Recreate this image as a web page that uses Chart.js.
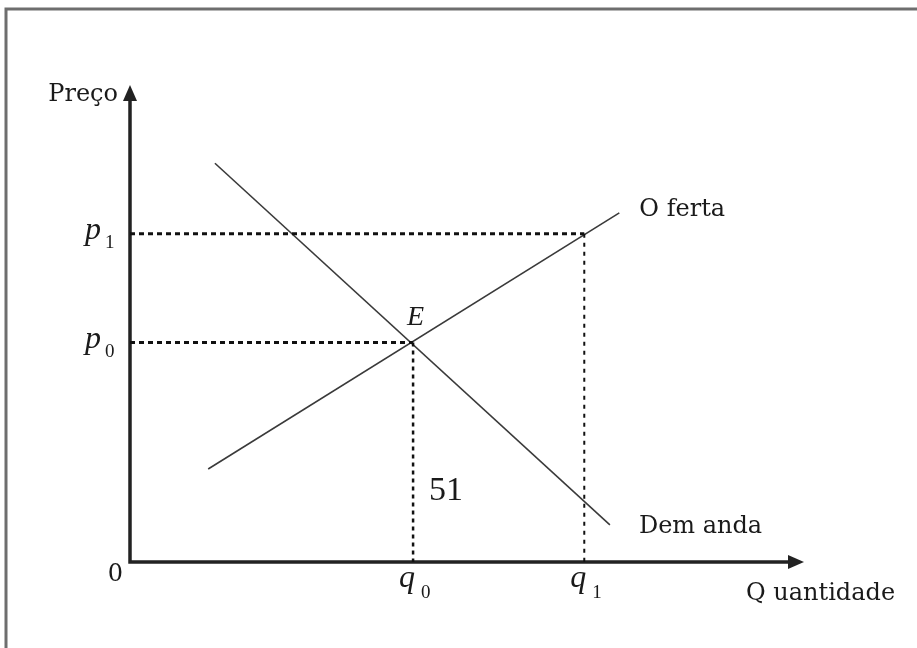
<!DOCTYPE html>
<html>
<head>
<meta charset="utf-8">
<script src="https://cdn.jsdelivr.net/npm/chart.js@4"></script>
<style>
  html, body { margin: 0; padding: 0; background: #fff; }
  #wrap { position: relative; width: 917px; height: 648px; overflow: hidden; }
</style>
</head>
<body>
<div id="wrap"><canvas id="eqChart" width="917" height="648"></canvas></div>
<script>
// Oferta e demanda - equilibrio em E
const quantities = [42, 67.4];      // q0, q1
const prices = [46, 68.8];          // p0, p1
const demandQ = [12.6, 71.2];
const demandP = [83.6, 7.8];
const supplyQ = [11.6, 72.6];
const supplyP = [19.5, 73.2];
const axisTitles = ['Preço', 'Q uantidade'];
const curveNames = ['O ferta', 'Dem anda'];
const noteText = '51';

const TEXT_FONT = '"DejaVu Serif", serif';
const MATH_FONT = '"Liberation Serif", "DejaVu Serif", serif';

function pts(xs, ys) {
    return xs.map((x, i) => ({ x: x, y: ys[i] }));
}

const guideStyle = { showLine: true, pointRadius: 0, borderColor: '#111', borderWidth: 3, borderDash: [5, 4], clip: false };

// frame, axes with arrows and all the text
const diagramPlugin = {
    id: 'diagram',
    beforeDatasetsDraw(chart) {
        const ctx = chart.ctx;
        const xs = chart.scales.x, ys = chart.scales.y;
        const x0 = xs.getPixelForValue(0), y0 = ys.getPixelForValue(0);
        const xEnd = xs.getPixelForValue(xs.max), yEnd = ys.getPixelForValue(ys.max);
        ctx.save();
        // outer frame
        ctx.strokeStyle = '#6e6e6e';
        ctx.lineWidth = 3;
        ctx.beginPath();
        ctx.moveTo(6, 660);
        ctx.lineTo(6, 9);
        ctx.lineTo(930, 9);
        ctx.stroke();
        // axes
        ctx.strokeStyle = '#222';
        ctx.fillStyle = '#222';
        ctx.lineWidth = 3.5;
        ctx.lineCap = 'square';
        ctx.beginPath();
        ctx.moveTo(x0, yEnd + 12);
        ctx.lineTo(x0, y0);
        ctx.lineTo(xEnd - 12, y0);
        ctx.stroke();
        ctx.beginPath();
        ctx.moveTo(x0, yEnd);
        ctx.lineTo(x0 - 7, yEnd + 16);
        ctx.lineTo(x0 + 7, yEnd + 16);
        ctx.closePath();
        ctx.fill();
        ctx.beginPath();
        ctx.moveTo(xEnd, y0);
        ctx.lineTo(xEnd - 16, y0 - 7);
        ctx.lineTo(xEnd - 16, y0 + 7);
        ctx.closePath();
        ctx.fill();
        ctx.restore();
    },
    afterDraw(chart) {
        const ctx = chart.ctx;
        const xs = chart.scales.x, ys = chart.scales.y;
        const x0 = xs.getPixelForValue(0), y0 = ys.getPixelForValue(0);
        ctx.save();
        ctx.fillStyle = '#1a1a1a';
        ctx.textBaseline = 'alphabetic';

        ctx.font = '24px ' + TEXT_FONT;
        ctx.textAlign = 'right';
        ctx.fillText(axisTitles[0], x0 - 12, ys.getPixelForValue(ys.max) + 16);
        ctx.fillText('0', x0 - 7, y0 + 19);
        ctx.textAlign = 'left';
        ctx.fillText(axisTitles[1], 746, y0 + 38);
        ctx.fillText(curveNames[0], xs.getPixelForValue(supplyQ[1]) + 20, ys.getPixelForValue(supplyP[1]) + 3);
        ctx.fillText(curveNames[1], xs.getPixelForValue(demandQ[1]) + 29, ys.getPixelForValue(demandP[1]) + 8);

        // price labels p0, p1
        ['0', '1'].forEach((sub, i) => {
            const py = ys.getPixelForValue(prices[i]);
            ctx.font = 'italic 32px ' + MATH_FONT;
            ctx.fillText('p', x0 - 45, py + 5);
            ctx.font = '19px ' + MATH_FONT;
            ctx.fillText(sub, x0 - 25, py + 14);
        });
        // quantity labels q0, q1
        ['0', '1'].forEach((sub, i) => {
            const px = xs.getPixelForValue(quantities[i]);
            ctx.font = 'italic 32px ' + MATH_FONT;
            ctx.fillText('q', px - 14, y0 + 25);
            ctx.font = '19px ' + MATH_FONT;
            ctx.fillText(sub, px + 8, y0 + 36);
        });
        // equilibrium point
        ctx.font = 'italic 28px ' + MATH_FONT;
        ctx.fillText('E', xs.getPixelForValue(quantities[0]) - 6, ys.getPixelForValue(prices[0]) - 18);
        ctx.font = '34px ' + MATH_FONT;
        ctx.fillText(noteText, xs.getPixelForValue(quantities[0]) + 16, y0 - 62);
        ctx.restore();
    }
};

const ctx = document.getElementById('eqChart').getContext('2d');
new Chart(ctx, {
    type: 'scatter',
    data: {
        datasets: [
            Object.assign({ data: pts([0, quantities[1]], [prices[1], prices[1]]) }, guideStyle),
            Object.assign({ data: pts([0, quantities[0]], [prices[0], prices[0]]) }, guideStyle),
            Object.assign({}, guideStyle, { data: pts([quantities[0], quantities[0]], [prices[0], 0]), borderWidth: 2.5, borderDash: [4, 4] }),
            Object.assign({}, guideStyle, { data: pts([quantities[1], quantities[1]], [prices[1], 0]), borderWidth: 2, borderDash: [4, 5] }),
            { label: 'Demanda', data: pts(demandQ, demandP), showLine: true, pointRadius: 0, borderColor: '#3a3a3a', borderWidth: 1.6, clip: false },
            { label: 'Oferta', data: pts(supplyQ, supplyP), showLine: true, pointRadius: 0, borderColor: '#3a3a3a', borderWidth: 1.6, clip: false }
        ]
    },
    options: {
        responsive: false,
        animation: false,
        layout: { padding: { left: 130, right: 113, top: 85, bottom: 86 } },
        scales: {
            x: { type: 'linear', min: 0, max: 100, display: false },
            y: { type: 'linear', min: 0, max: 100, display: false }
        },
        plugins: { legend: { display: false }, tooltip: { enabled: false } }
    },
    plugins: [diagramPlugin]
});
</script>
</body>
</html>
